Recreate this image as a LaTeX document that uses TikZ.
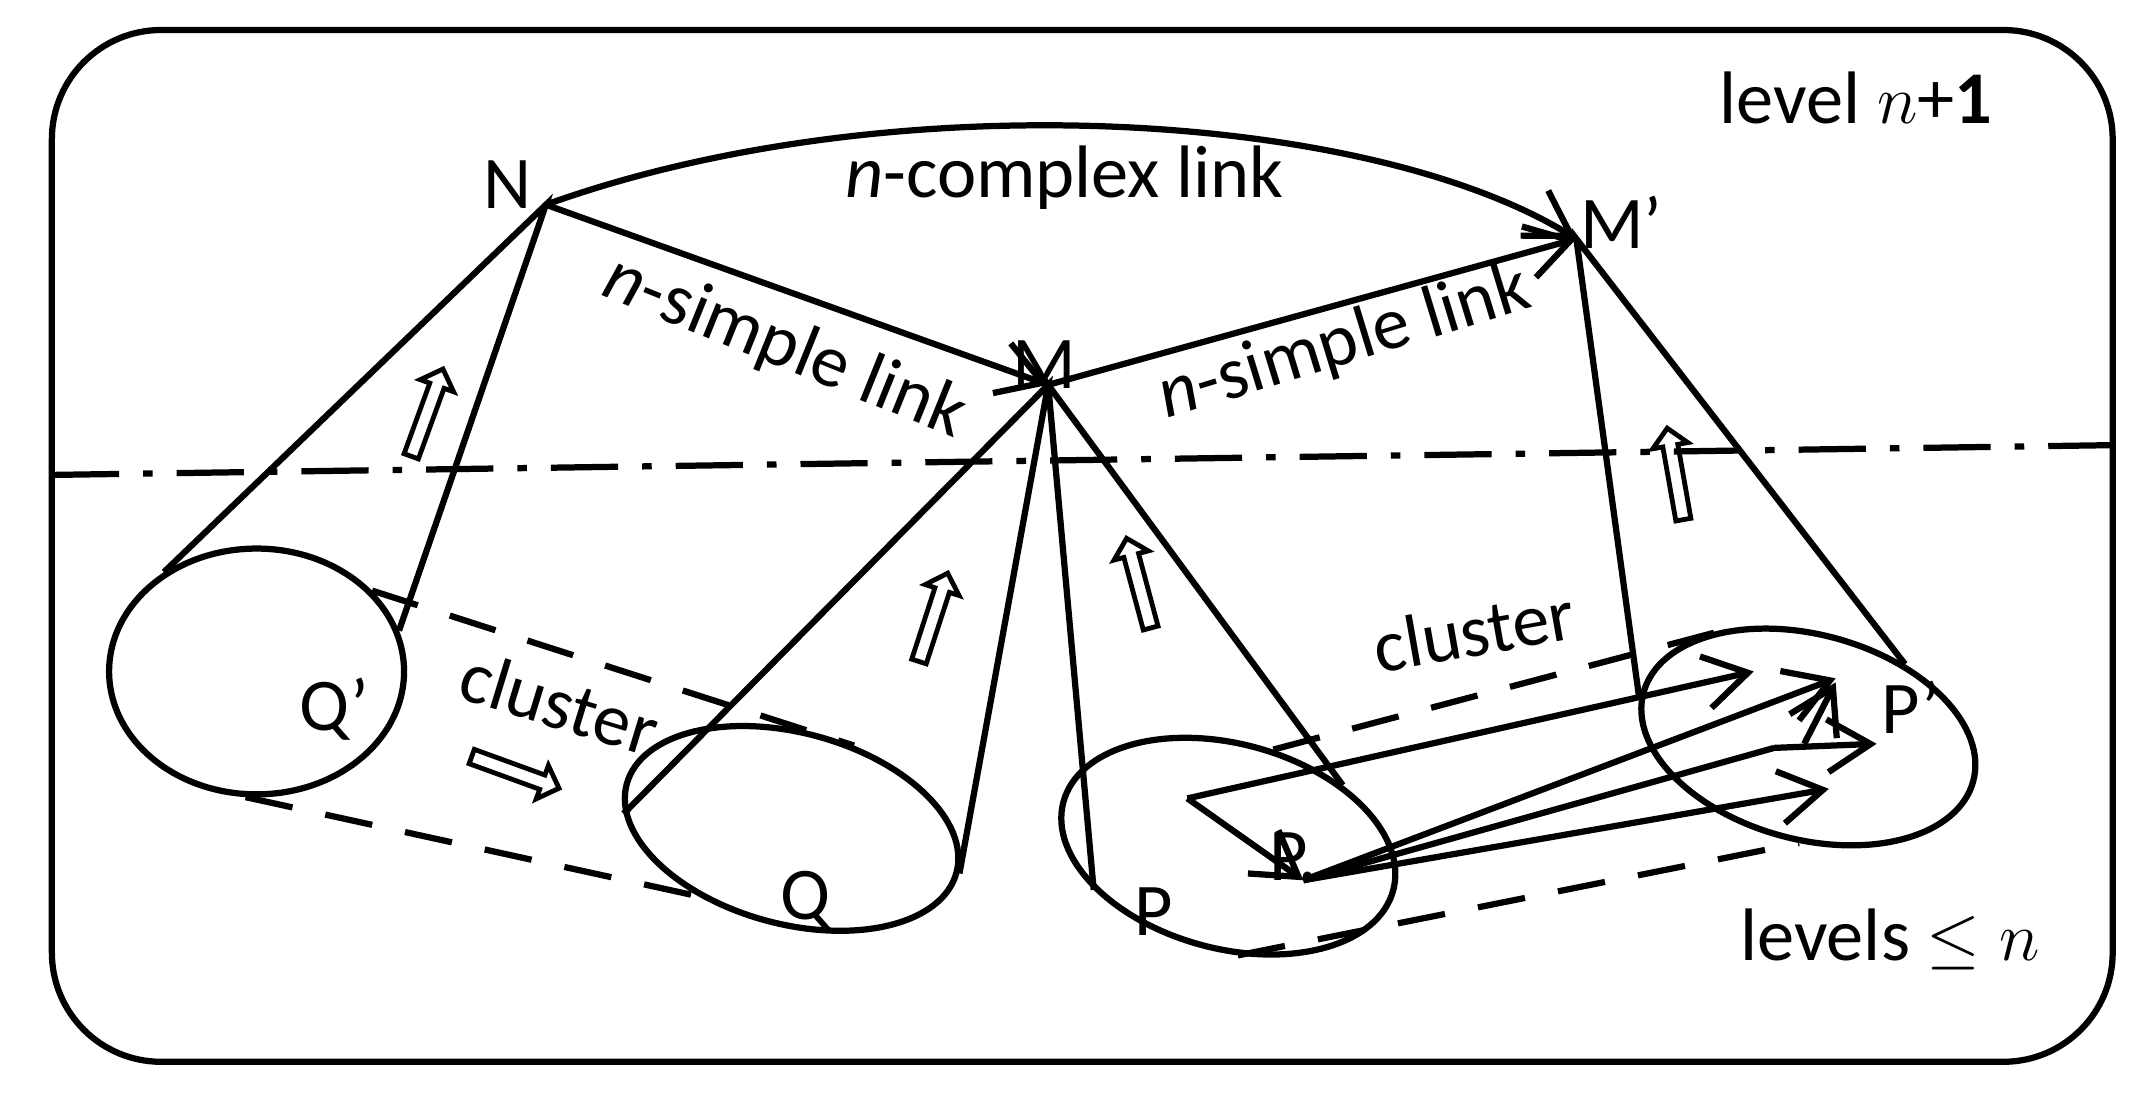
\documentclass[tikz,border=0pt]{standalone}
\usepackage{fontspec}
\setmainfont{Carlito}
\usetikzlibrary{shapes.geometric,shapes.arrows,arrows.meta}
\begin{document}
\begin{tikzpicture}[x=0.01cm,y=-0.01cm,line width=1.3pt,
	every node/.style={font=\fontsize{15.5}{18}\selectfont},
	blob/.style={draw,ellipse,inner sep=0pt},
	link/.style={-{Straight Barb[length=9pt,width=11pt]}},
	hollow/.style={draw,single arrow,line width=1pt,minimum height=0.68cm,minimum width=0.26cm,single arrow head extend=2pt,inner sep=1pt},
	clus/.style={dashed,dash pattern=on 10pt off 7pt}]
	\useasboundingbox (0,0) rectangle (1568,804);
	\draw[rounded corners=0.8cm] (38,22) rectangle (1548,778);
	\draw[dash pattern=on 14pt off 5pt on 2pt off 5pt] (38,348) -- (1560,326);
	\node at (1360,72) {level $n$+\textbf{1}};
	\node at (1385,688) {levels $\le n$};
	% level n+1 points
	\coordinate (N) at (400,150);
	\coordinate (M) at (768,282);
	\coordinate (Mp) at (1155,175);
	\node at (372,135) {N};
	\node at (765,267) {M};
	\node at (1188,163) {M'};
	\draw[link] (N) .. controls (650,60) and (1000,80) .. (Mp);
	\node at (780,130) {\textit{n}-complex link};
	\draw[link] (N) -- (M);
	\node[rotate=-22] at (575,255) {\textit{n}-simple link};
	\draw[link] (M) -- (Mp);
	\node[rotate=17] at (985,252) {\textit{n}-simple link};
	% clusters
	\node[blob,minimum width=2.16cm,minimum height=1.8cm] (Qp) at (188,492) {};
	\node[blob,minimum width=2.5cm,minimum height=1.4cm,rotate=-15] (Q) at (580,607) {};
	\node[blob,minimum width=2.5cm,minimum height=1.5cm,rotate=-15] (P) at (900,620) {};
	\node[blob,minimum width=2.5cm,minimum height=1.5cm,rotate=-15] (Pp) at (1325,540) {};
	\node at (245,520) {Q'};
	\node at (590,660) {Q};
	\node at (845,668) {P};
	\node at (1400,518) {P'};
	\draw (Qp.133) -- (N) -- (Qp.16);
	\draw (Q.190) -- (M) -- (Q.0);
	\draw (P.213) -- (M) -- (P.43);
	\draw (Pp.182) -- (Mp) -- (Pp.52);
	% dashed cluster links
	\draw[clus] (Qp.35) -- (Q.68);
	\draw[clus] (Qp.-95) -- (Q.231);
	\node[rotate=-17] at (410,515) {cluster};
	\draw[clus] (P.80) -- (Pp.140);
	\draw[clus] (P.-70) -- (Pp.-80);
	\node[rotate=10] at (1080,462) {cluster};
	% hollow arrows
	\node[hollow,rotate=-20] (hq) at (375,565) {};
	\node[hollow,rotate=70] (hn) at (312,305) {};
	\node[hollow,rotate=72] (hm) at (683,455) {};
	\node[hollow,rotate=105] (hp) at (835,430) {};
	\node[hollow,rotate=100] (hmp) at (1228,350) {};
	% moves inside P
	\coordinate (A) at (870,585);
	\coordinate (Pd) at (955,645);
	\coordinate (B) at (1300,548);
	\node at (948,628) {P.};
	\draw[link] (A) -- (Pd);
	\draw[link] (A) -- (1285,492);
	\draw[link] (Pd) -- (1345,497);
	\draw (Pd) -- (B);
	\draw[link] (B) -- (1375,545);
	\draw[link] (1322,545) -- (1345,500);
	\draw[link] (Pd) -- (1340,578);
\end{tikzpicture}
\end{document}
